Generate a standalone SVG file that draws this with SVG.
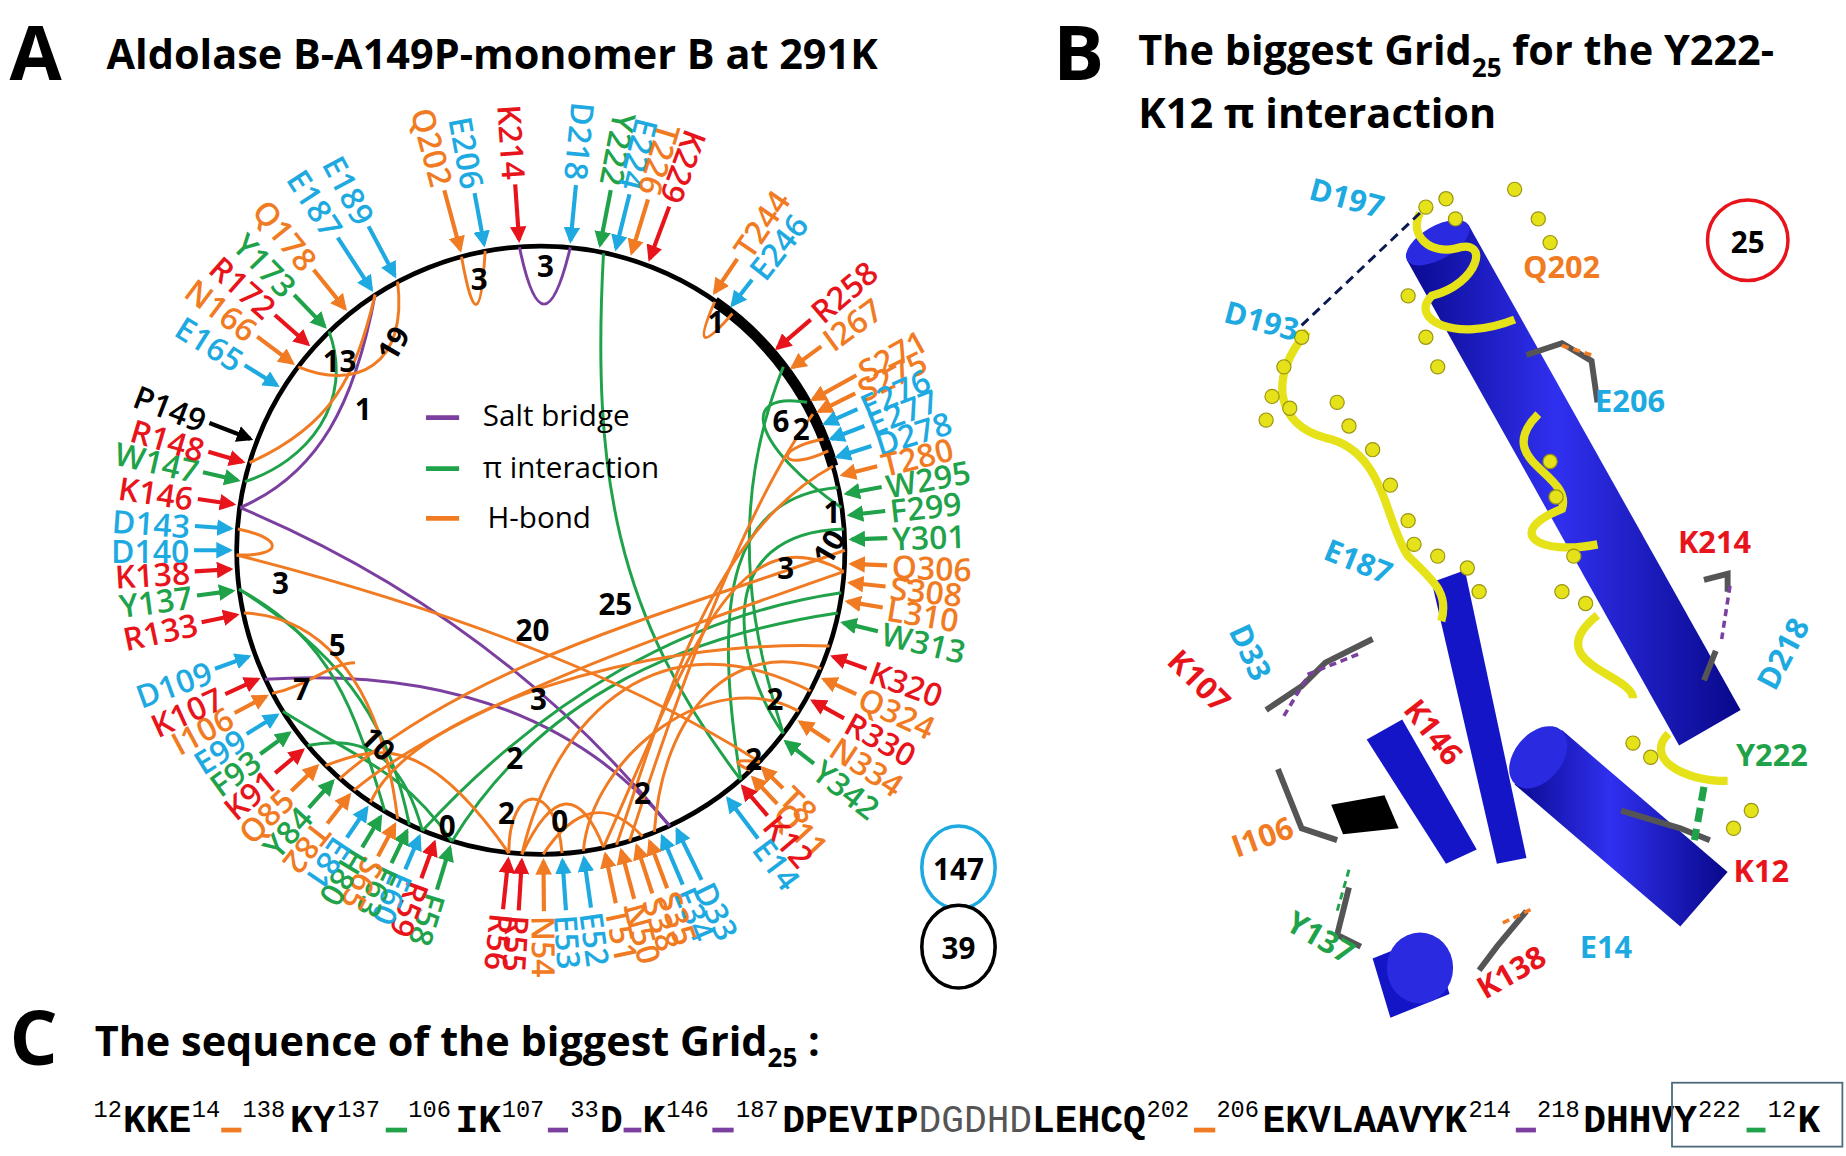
<svg xmlns="http://www.w3.org/2000/svg" width="1846" height="1156" viewBox="0 0 1846 1156">
<style>
text{font-family:"Open Sans","Liberation Sans",sans-serif}
.ttl{font-weight:bold;font-size:35px;fill:#000}
.big{font-weight:bold;font-size:64px;fill:#000}
.lab text{font-size:27px;font-weight:600;dominant-baseline:central}
.o{text-anchor:start}.i{text-anchor:end}
.lab line{stroke-width:3.5}
.r line{stroke:#e8141b;marker-end:url(#mr)}.r text{fill:#e8141b}
.or line{stroke:#f07b23;marker-end:url(#mo)}.or text{fill:#f07b23}
.b line{stroke:#1eaae1;marker-end:url(#mb)}.b text{fill:#1eaae1}
.g line{stroke:#1fa24a;marker-end:url(#mg)}.g text{fill:#1fa24a}
.k line{stroke:#000;marker-end:url(#mk)}.k text{fill:#000}
.c path{fill:none;stroke-width:2.5}
.cp{stroke:#7b3fa0}.cg{stroke:#1fa24a}.co{stroke:#f07b23}
.num{font-weight:bold;font-size:25px;fill:#000;text-anchor:middle;dominant-baseline:central}
.leg{font-size:25px;fill:#000}
.bl{font-size:26px;font-weight:bold}
.seq{font-family:"Liberation Mono",monospace;font-weight:bold;font-size:32px;fill:#000}
.sup{font-family:"Liberation Mono",monospace;font-size:20px;fill:#000}
.ys{fill:#e6e21a;stroke:#9a9410;stroke-width:1}
</style>
<defs>
<marker id="mr" viewBox="0 0 10 10" refX="8" refY="5" markerWidth="4" markerHeight="4" orient="auto"><path d="M0,0L10,5L0,10z" fill="#e8141b"/></marker>
<marker id="mo" viewBox="0 0 10 10" refX="8" refY="5" markerWidth="4" markerHeight="4" orient="auto"><path d="M0,0L10,5L0,10z" fill="#f07b23"/></marker>
<marker id="mb" viewBox="0 0 10 10" refX="8" refY="5" markerWidth="4" markerHeight="4" orient="auto"><path d="M0,0L10,5L0,10z" fill="#1eaae1"/></marker>
<marker id="mg" viewBox="0 0 10 10" refX="8" refY="5" markerWidth="4" markerHeight="4" orient="auto"><path d="M0,0L10,5L0,10z" fill="#1fa24a"/></marker>
<marker id="mk" viewBox="0 0 10 10" refX="8" refY="5" markerWidth="4" markerHeight="4" orient="auto"><path d="M0,0L10,5L0,10z" fill="#000"/></marker>
<linearGradient id="cyl" x1="0" y1="0" x2="1" y2="0"><stop offset="0" stop-color="#0a0a90"/><stop offset="0.45" stop-color="#3030f0"/><stop offset="1" stop-color="#08088a"/></linearGradient>
</defs>
<rect width="1846" height="1156" fill="#fff"/>
<g transform="scale(1.1833)">
<text class="big" x="8" y="68">A</text>
<text class="ttl" x="90" y="58">Aldolase B-A149P-monomer B at 291K</text>
<text class="big" x="890" y="68">B</text>
<text class="ttl" x="962" y="55">The biggest Grid<tspan font-size="22" dy="10">25</tspan><tspan dy="-10"> for the Y222-</tspan></text>
<text class="ttl" x="962" y="108">K12 π interaction</text>
<text class="big" x="8" y="900">C</text>
<text class="ttl" x="80" y="892">The sequence of the biggest Grid<tspan font-size="22" dy="10">25</tspan><tspan dy="-10"> :</tspan></text>

<g id="ring">
<circle cx="457" cy="465" r="257" fill="none" stroke="#000" stroke-width="4"/>
<path d="M604,255 A257,257 0 0 1 704,394" fill="none" stroke="#000" stroke-width="9"/>
</g>

<g id="connectors" class="c">
<path class="cp" d="M439,209 Q459,305 482,209"/>
<path class="cp" d="M203,429 C270,400 300,340 317,249"/>
<path class="cp" d="M203,429 Q420,520 566,698"/>
<path class="cp" d="M224,574 Q450,560 566,698"/>
<path class="cg" d="M510,214 C500,400 520,520 626,659"/>
<path class="cg" d="M207,407 C260,390 300,340 278,280"/>
<path class="cg" d="M202,498 C280,540 300,600 325,685"/>
<path class="cg" d="M202,498 C300,560 330,620 346,697"/>
<path class="cg" d="M260,630 C310,620 340,640 357,702"/>
<path class="cg" d="M239,601 C300,640 340,650 382,711"/>
<path class="cg" d="M382,711 C450,600 560,540 708,518"/>
<path class="cg" d="M357,702 C460,590 580,520 711,501"/>
<path class="cg" d="M662,310 C610,440 640,550 662,620"/>
<path class="cg" d="M708,412 C620,420 600,500 626,659"/>
<path class="cg" d="M711,429 C640,380 620,330 682,340"/>
<path class="cg" d="M713,447 C600,450 620,560 662,620"/>
<path class="co" d="M390,217 Q405,300 410,212"/>
<path class="co" d="M604,255 Q580,310 619,265"/>
<path class="co" d="M252,310 C300,330 345,310 336,238"/>
<path class="co" d="M317,249 C300,320 280,360 211,391"/>
<path class="co" d="M200,469 Q480,540 642,644"/>
<path class="co" d="M201,447 C240,455 240,470 200,469"/>
<path class="co" d="M206,518 C260,520 320,560 336,692"/>
<path class="co" d="M230,586 C260,580 280,560 300,560"/>
<path class="co" d="M299,668 C380,600 550,540 713,483"/>
<path class="co" d="M287,658 C400,560 560,520 714,465"/>
<path class="co" d="M313,678 C350,600 540,540 701,546"/>
<path class="co" d="M275,647 C320,630 360,620 430,721"/>
<path class="co" d="M704,394 C600,450 560,600 521,714"/>
<path class="co" d="M713,483 C620,430 580,560 510,716"/>
<path class="co" d="M694,565 C620,540 560,600 553,703"/>
<path class="co" d="M687,350 C650,400 600,500 532,711"/>
<path class="co" d="M696,371 C650,380 660,400 700,381"/>
<path class="co" d="M685,584 C560,520 470,600 441,722"/>
<path class="co" d="M430,721 C430,660 470,660 475,721"/>
<path class="co" d="M441,722 Q480,640 510,716"/>
<path class="co" d="M459,722 Q500,660 543,707"/>
<path class="co" d="M642,644 Q610,640 634,651"/>
<path class="co" d="M675,601 C600,560 500,640 493,719"/>
</g>

<g id="numbers">
<text class="num" x="405" y="235">3</text><text class="num" x="461" y="224">3</text>
<text class="num" x="287" y="305">13</text><text class="num" x="332" y="290" transform="rotate(-60 332 290)">19</text>
<text class="num" x="307" y="345">1</text><text class="num" x="605" y="272">1</text>
<text class="num" x="660" y="355">6</text><text class="num" x="677" y="362">2</text>
<text class="num" x="703" y="432">1</text><text class="num" x="700" y="462" transform="rotate(-60 700 462)">10</text>
<text class="num" x="664" y="480">3</text><text class="num" x="655" y="590">2</text>
<text class="num" x="637" y="641">2</text>
<text class="num" x="520" y="510">25</text><text class="num" x="450" y="532">20</text>
<text class="num" x="455" y="590">3</text><text class="num" x="435" y="640">2</text>
<text class="num" x="543" y="670">2</text><text class="num" x="237" y="492">3</text>
<text class="num" x="285" y="545">5</text><text class="num" x="255" y="582">7</text>
<text class="num" x="320" y="628" transform="rotate(45 320 628)">10</text>
<text class="num" x="378" y="698">0</text><text class="num" x="428" y="687">2</text><text class="num" x="473" y="693">0</text>
</g>

<g id="legend">
<line x1="360" y1="353" x2="388" y2="353" stroke="#7b3fa0" stroke-width="4"/>
<line x1="360" y1="396" x2="388" y2="396" stroke="#1fa24a" stroke-width="4"/>
<line x1="360" y1="438" x2="388" y2="438" stroke="#f07b23" stroke-width="4"/>
<text class="leg" x="408" y="360">Salt bridge</text>
<text class="leg" x="408" y="404">π interaction</text>
<text class="leg" x="412" y="446">H-bond</text>
</g>

<g id="labels" class="lab">
<g class="or" transform="rotate(-15 457 465)"><line x1="457" y1="150" x2="457" y2="202"/><text class="i" transform="translate(457,146) rotate(90)">Q202</text></g>
<g class="b" transform="rotate(-10.5 457 465)"><line x1="457" y1="158" x2="457" y2="202"/><text class="i" transform="translate(457,154) rotate(90)">E206</text></g>
<g class="r" transform="rotate(-4 457 465)"><line x1="457" y1="155" x2="457" y2="202"/><text class="i" transform="translate(457,151) rotate(90)">K214</text></g>
<g class="b" transform="rotate(5.5 457 465)"><line x1="457" y1="155" x2="457" y2="202"/><text class="i" transform="translate(457,151) rotate(90)">D218</text></g>
<g class="g" transform="rotate(11 457 465)"><line x1="457" y1="155" x2="457" y2="202"/><text class="i" transform="translate(457,151) rotate(90)">Y222</text></g>
<g class="b" transform="rotate(14 457 465)"><line x1="457" y1="155" x2="457" y2="202"/><text class="i" transform="translate(457,151) rotate(90)">E224</text></g>
<g class="or" transform="rotate(17 457 465)"><line x1="457" y1="155" x2="457" y2="202"/><text class="i" transform="translate(457,151) rotate(90)">T226</text></g>
<g class="r" transform="rotate(20.5 457 465)"><line x1="457" y1="155" x2="457" y2="202"/><text class="i" transform="translate(457,151) rotate(90)">K229</text></g>
<g class="or" transform="rotate(34 457 465)"><line x1="457" y1="168" x2="457" y2="202"/><text class="o" transform="translate(457,163) rotate(-90)">T244</text></g>
<g class="b" transform="rotate(38 457 465)"><line x1="457" y1="175" x2="457" y2="202"/><text class="o" transform="translate(457,170) rotate(-90)">E246</text></g>
<g class="r" transform="rotate(49.5 457 465)"><line x1="457" y1="165" x2="457" y2="202"/><text class="o" transform="translate(457,160) rotate(-90)">R258</text></g>
<g class="or" transform="rotate(54 457 465)"><line x1="457" y1="172" x2="457" y2="202"/><text class="o" transform="translate(457,167) rotate(-90)">I267</text></g>
<g class="or" transform="rotate(61 457 465)"><line x1="457" y1="160" x2="457" y2="202"/><text class="o" transform="translate(457,156) rotate(-90)">S271</text></g>
<g class="or" transform="rotate(63.5 457 465)"><line x1="457" y1="168" x2="457" y2="202"/><text class="o" transform="translate(457,164) rotate(-90)">S275</text></g>
<g class="b" transform="rotate(66 457 465)"><line x1="457" y1="172" x2="457" y2="202"/><text class="o" transform="translate(457,168) rotate(-90)">E276</text></g>
<g class="b" transform="rotate(69 457 465)"><line x1="457" y1="172" x2="457" y2="202"/><text class="o" transform="translate(457,168) rotate(-90)">E277</text></g>
<g class="b" transform="rotate(72.5 457 465)"><line x1="457" y1="172" x2="457" y2="202"/><text class="o" transform="translate(457,168) rotate(-90)">D278</text></g>
<g class="or" transform="rotate(76 457 465)"><line x1="457" y1="172" x2="457" y2="202"/><text class="o" transform="translate(457,168) rotate(-90)">T280</text></g>
<g class="g" transform="rotate(79.5 457 465)"><line x1="457" y1="172" x2="457" y2="202"/><text class="o" transform="translate(457,168) rotate(-90)">W295</text></g>
<g class="g" transform="rotate(83.5 457 465)"><line x1="457" y1="172" x2="457" y2="202"/><text class="o" transform="translate(457,168) rotate(-90)">F299</text></g>
<g class="g" transform="rotate(88 457 465)"><line x1="457" y1="172" x2="457" y2="202"/><text class="o" transform="translate(457,168) rotate(-90)">Y301</text></g>
<g class="or" transform="rotate(92.5 457 465)"><line x1="457" y1="172" x2="457" y2="202"/><text class="o" transform="translate(457,168) rotate(-90)">Q306</text></g>
<g class="or" transform="rotate(96 457 465)"><line x1="457" y1="172" x2="457" y2="202"/><text class="o" transform="translate(457,168) rotate(-90)">S308</text></g>
<g class="or" transform="rotate(99.5 457 465)"><line x1="457" y1="172" x2="457" y2="202"/><text class="o" transform="translate(457,168) rotate(-90)">L310</text></g>
<g class="g" transform="rotate(103.5 457 465)"><line x1="457" y1="172" x2="457" y2="202"/><text class="o" transform="translate(457,168) rotate(-90)">W313</text></g>
<g class="r" transform="rotate(110 457 465)"><line x1="457" y1="172" x2="457" y2="202"/><text class="o" transform="translate(457,168) rotate(-90)">K320</text></g>
<g class="or" transform="rotate(114.5 457 465)"><line x1="457" y1="172" x2="457" y2="202"/><text class="o" transform="translate(457,168) rotate(-90)">Q324</text></g>
<g class="r" transform="rotate(119 457 465)"><line x1="457" y1="172" x2="457" y2="202"/><text class="o" transform="translate(457,168) rotate(-90)">R330</text></g>
<g class="or" transform="rotate(123.5 457 465)"><line x1="457" y1="172" x2="457" y2="202"/><text class="o" transform="translate(457,168) rotate(-90)">N334</text></g>
<g class="g" transform="rotate(128 457 465)"><line x1="457" y1="172" x2="457" y2="202"/><text class="o" transform="translate(457,168) rotate(-90)">Y342</text></g>
<g class="or" transform="rotate(134.5 457 465)"><line x1="457" y1="178" x2="457" y2="202"/><text class="o" transform="translate(457,174) rotate(-90)">T8</text></g>
<g class="or" transform="rotate(137 457 465)"><line x1="457" y1="172" x2="457" y2="202"/><text class="o" transform="translate(457,168) rotate(-90)">Q11</text></g>
<g class="r" transform="rotate(139.5 457 465)"><line x1="457" y1="170" x2="457" y2="202"/><text class="o" transform="translate(457,166) rotate(-90)">K12</text></g>
<g class="b" transform="rotate(143 457 465)"><line x1="457" y1="160" x2="457" y2="202"/><text class="o" transform="translate(457,156) rotate(-90)">E14</text></g>
<g class="b" transform="rotate(154 457 465)"><line x1="457" y1="155" x2="457" y2="202"/><text class="o" transform="translate(457,151) rotate(-90)">D33</text></g>
<g class="b" transform="rotate(157 457 465)"><line x1="457" y1="158" x2="457" y2="202"/><text class="o" transform="translate(457,154) rotate(-90)">E34</text></g>
<g class="or" transform="rotate(159.5 457 465)"><line x1="457" y1="160" x2="457" y2="202"/><text class="o" transform="translate(457,156) rotate(-90)">S35</text></g>
<g class="or" transform="rotate(162 457 465)"><line x1="457" y1="160" x2="457" y2="202"/><text class="o" transform="translate(457,156) rotate(-90)">S38</text></g>
<g class="or" transform="rotate(165 457 465)"><line x1="457" y1="160" x2="457" y2="202"/><text class="o" transform="translate(457,156) rotate(-90)">N50</text></g>
<g class="or" transform="rotate(168 457 465)"><line x1="457" y1="160" x2="457" y2="202"/><text class="o" transform="translate(457,156) rotate(-90)">T51</text></g>
<g class="b" transform="rotate(172 457 465)"><line x1="457" y1="160" x2="457" y2="202"/><text class="o" transform="translate(457,156) rotate(-90)">E52</text></g>
<g class="b" transform="rotate(176 457 465)"><line x1="457" y1="160" x2="457" y2="202"/><text class="o" transform="translate(457,156) rotate(-90)">E53</text></g>
<g class="or" transform="rotate(179.5 457 465)"><line x1="457" y1="160" x2="457" y2="202"/><text class="o" transform="translate(457,156) rotate(-90)">N54</text></g>
<g class="r" transform="rotate(183.5 457 465)"><line x1="457" y1="160" x2="457" y2="202"/><text class="o" transform="translate(457,156) rotate(-90)">R55</text></g>
<g class="r" transform="rotate(186 457 465)"><line x1="457" y1="160" x2="457" y2="202"/><text class="o" transform="translate(457,156) rotate(-90)">R56</text></g>
<g class="g" transform="rotate(197 457 465)"><line x1="457" y1="165" x2="457" y2="202"/><text class="o" transform="translate(457,161) rotate(-90)">F58</text></g>
<g class="r" transform="rotate(200 457 465)"><line x1="457" y1="170" x2="457" y2="202"/><text class="o" transform="translate(457,166) rotate(-90)">R59</text></g>
<g class="b" transform="rotate(203 457 465)"><line x1="457" y1="172" x2="457" y2="202"/><text class="o" transform="translate(457,168) rotate(-90)">E60</text></g>
<g class="g" transform="rotate(205.5 457 465)"><line x1="457" y1="172" x2="457" y2="202"/><text class="o" transform="translate(457,168) rotate(-90)">F63</text></g>
<g class="or" transform="rotate(208 457 465)"><line x1="457" y1="172" x2="457" y2="202"/><text class="o" transform="translate(457,168) rotate(-90)">S65</text></g>
<g class="g" transform="rotate(211 457 465)"><line x1="457" y1="172" x2="457" y2="202"/><text class="o" transform="translate(457,168) rotate(-90)">H80</text></g>
<g class="b" transform="rotate(214 457 465)"><line x1="457" y1="172" x2="457" y2="202"/><text class="o" transform="translate(457,168) rotate(-90)">E81</text></g>
<g class="or" transform="rotate(218 457 465)"><line x1="457" y1="172" x2="457" y2="202"/><text class="o" transform="translate(457,168) rotate(-90)">T82</text></g>
<g class="g" transform="rotate(222 457 465)"><line x1="457" y1="172" x2="457" y2="202"/><text class="i" transform="translate(457,168) rotate(90)">Y84</text></g>
<g class="or" transform="rotate(226 457 465)"><line x1="457" y1="172" x2="457" y2="202"/><text class="i" transform="translate(457,168) rotate(90)">Q85</text></g>
<g class="r" transform="rotate(230 457 465)"><line x1="457" y1="172" x2="457" y2="202"/><text class="i" transform="translate(457,168) rotate(90)">K91</text></g>
<g class="g" transform="rotate(234 457 465)"><line x1="457" y1="172" x2="457" y2="202"/><text class="i" transform="translate(457,168) rotate(90)">F93</text></g>
<g class="b" transform="rotate(238 457 465)"><line x1="457" y1="172" x2="457" y2="202"/><text class="i" transform="translate(457,168) rotate(90)">E99</text></g>
<g class="or" transform="rotate(242 457 465)"><line x1="457" y1="172" x2="457" y2="202"/><text class="i" transform="translate(457,168) rotate(90)">I106</text></g>
<g class="r" transform="rotate(245.5 457 465)"><line x1="457" y1="172" x2="457" y2="202"/><text class="i" transform="translate(457,168) rotate(90)">K107</text></g>
<g class="b" transform="rotate(250 457 465)"><line x1="457" y1="172" x2="457" y2="202"/><text class="i" transform="translate(457,168) rotate(90)">D109</text></g>
<g class="r" transform="rotate(258 457 465)"><line x1="457" y1="172" x2="457" y2="202"/><text class="i" transform="translate(457,168) rotate(90)">R133</text></g>
<g class="g" transform="rotate(262.5 457 465)"><line x1="457" y1="172" x2="457" y2="202"/><text class="i" transform="translate(457,168) rotate(90)">Y137</text></g>
<g class="r" transform="rotate(266.5 457 465)"><line x1="457" y1="172" x2="457" y2="202"/><text class="i" transform="translate(457,168) rotate(90)">K138</text></g>
<g class="b" transform="rotate(270 457 465)"><line x1="457" y1="172" x2="457" y2="202"/><text class="i" transform="translate(457,168) rotate(90)">D140</text></g>
<g class="b" transform="rotate(274 457 465)"><line x1="457" y1="172" x2="457" y2="202"/><text class="i" transform="translate(457,168) rotate(90)">D143</text></g>
<g class="r" transform="rotate(278.5 457 465)"><line x1="457" y1="172" x2="457" y2="202"/><text class="i" transform="translate(457,168) rotate(90)">K146</text></g>
<g class="g" transform="rotate(283 457 465)"><line x1="457" y1="172" x2="457" y2="202"/><text class="i" transform="translate(457,168) rotate(90)">W147</text></g>
<g class="r" transform="rotate(286.5 457 465)"><line x1="457" y1="172" x2="457" y2="202"/><text class="i" transform="translate(457,168) rotate(90)">R148</text></g>
<g class="k" transform="rotate(291 457 465)"><line x1="457" y1="165" x2="457" y2="202"/><text class="i" transform="translate(457,161) rotate(90)">P149</text></g>
<g class="b" transform="rotate(302 457 465)"><line x1="457" y1="170" x2="457" y2="202"/><text class="i" transform="translate(457,166) rotate(90)">E165</text></g>
<g class="or" transform="rotate(307 457 465)"><line x1="457" y1="165" x2="457" y2="202"/><text class="i" transform="translate(457,161) rotate(90)">N166</text></g>
<g class="r" transform="rotate(311.5 457 465)"><line x1="457" y1="165" x2="457" y2="202"/><text class="i" transform="translate(457,161) rotate(90)">R172</text></g>
<g class="g" transform="rotate(316 457 465)"><line x1="457" y1="165" x2="457" y2="202"/><text class="i" transform="translate(457,161) rotate(90)">Y173</text></g>
<g class="or" transform="rotate(321 457 465)"><line x1="457" y1="160" x2="457" y2="202"/><text class="i" transform="translate(457,156) rotate(90)">Q178</text></g>
<g class="b" transform="rotate(327 457 465)"><line x1="457" y1="150" x2="457" y2="202"/><text class="i" transform="translate(457,146) rotate(90)">E187</text></g>
<g class="b" transform="rotate(332 457 465)"><line x1="457" y1="155" x2="457" y2="202"/><text class="i" transform="translate(457,151) rotate(90)">E189</text></g>
</g>

<g id="count147"><ellipse cx="810" cy="733" rx="31" ry="35" fill="#fff" stroke="#1eaae1" stroke-width="3"/><text class="num" x="810" y="734">147</text></g>
<g id="count39"><ellipse cx="810" cy="800" rx="31" ry="35" fill="#fff" stroke="#000" stroke-width="3"/><text class="num" x="810" y="801">39</text></g>

<g id="structure">
<polygon points="1241,190 1189,220 1419,630 1471,600" fill="url(#cyl)"/>
<ellipse cx="1215" cy="205" rx="30" ry="14" transform="rotate(-30 1215 205)" fill="#2a2ae0"/>
<polygon points="1320,617 1280,663 1420,783 1460,737" fill="url(#cyl)"/>
<ellipse cx="1300" cy="640" rx="30" ry="20" transform="rotate(-50 1300 640)" fill="#2a2ae0"/>
<polygon points="1210,492 1238,482 1290,725 1265,730" fill="#1515c8"/>
<polygon points="1155,625 1185,608 1248,718 1222,730" fill="#1515c8"/>
<polygon points="1160,810 1210,790 1225,840 1175,860" fill="#1515c8"/>
<ellipse cx="1200" cy="818" rx="28" ry="30" fill="#2a2ae0"/>
<polygon points="1125,680 1170,672 1182,700 1135,705" fill="#000"/>
<path d="M1200,180 C1190,200 1210,215 1230,210 C1260,200 1250,240 1210,250 C1190,270 1230,290 1280,270 M1300,350 C1260,390 1330,400 1320,430 C1270,450 1300,470 1350,460 M1350,520 C1300,560 1380,570 1380,590 M1410,620 C1390,640 1420,660 1460,660" fill="none" stroke="#e6e21a" stroke-width="7"/>
<path d="M1105,280 C1070,320 1080,360 1120,370 C1170,380 1170,440 1190,470 C1210,490 1225,500 1218,525" fill="none" stroke="#e6e21a" stroke-width="7"/>
<g class="ys">
<circle cx="1205" cy="175" r="6"/><circle cx="1222" cy="168" r="6"/><circle cx="1230" cy="185" r="6"/>
<circle cx="1280" cy="160" r="6"/><circle cx="1300" cy="185" r="6"/><circle cx="1310" cy="205" r="6"/>
<circle cx="1190" cy="250" r="6"/><circle cx="1205" cy="285" r="6"/><circle cx="1215" cy="310" r="6"/>
<circle cx="1100" cy="285" r="6"/><circle cx="1085" cy="310" r="6"/><circle cx="1075" cy="335" r="6"/>
<circle cx="1070" cy="355" r="6"/><circle cx="1090" cy="345" r="6"/><circle cx="1130" cy="340" r="6"/>
<circle cx="1140" cy="360" r="6"/><circle cx="1160" cy="380" r="6"/><circle cx="1175" cy="410" r="6"/>
<circle cx="1190" cy="440" r="6"/><circle cx="1195" cy="460" r="6"/><circle cx="1215" cy="470" r="6"/>
<circle cx="1240" cy="480" r="6"/><circle cx="1250" cy="500" r="6"/><circle cx="1310" cy="390" r="6"/>
<circle cx="1315" cy="420" r="6"/><circle cx="1330" cy="470" r="6"/><circle cx="1320" cy="500" r="6"/>
<circle cx="1340" cy="510" r="6"/><circle cx="1380" cy="628" r="6"/><circle cx="1395" cy="640" r="6"/>
<circle cx="1480" cy="685" r="6"/><circle cx="1465" cy="700" r="6"/>
</g>
<path d="M1290,300 L1320,290 L1345,305 L1350,340 M1440,490 L1460,485 L1460,500 M1450,550 L1440,575 M1370,685 L1420,700 L1445,710 M1140,750 L1130,790 L1150,800 M1290,770 L1265,800 L1250,820 M1080,650 L1100,700 L1130,710 M1160,540 L1120,560 L1100,580 L1070,600" fill="none" stroke="#555" stroke-width="5"/>
<line x1="1200" y1="180" x2="1100" y2="275" stroke="#0a1a50" stroke-width="2.5" stroke-dasharray="8,5"/>
<line x1="1320" y1="292" x2="1345" y2="300" stroke="#f07b23" stroke-width="3" stroke-dasharray="6,4"/>
<line x1="1462" y1="495" x2="1455" y2="540" stroke="#7b3fa0" stroke-width="3" stroke-dasharray="6,4"/>
<line x1="1105" y1="570" x2="1150" y2="552" stroke="#7b3fa0" stroke-width="3" stroke-dasharray="6,4"/>
<line x1="1085" y1="605" x2="1105" y2="572" stroke="#7b3fa0" stroke-width="3" stroke-dasharray="6,4"/>
<line x1="1440" y1="665" x2="1432" y2="710" stroke="#1fa24a" stroke-width="6" stroke-dasharray="12,6"/>
<line x1="1140" y1="735" x2="1130" y2="770" stroke="#1fa24a" stroke-width="2.5" stroke-dasharray="6,4"/>
<line x1="1270" y1="780" x2="1295" y2="768" stroke="#f07b23" stroke-width="3" stroke-dasharray="6,4"/>
</g>
<g id="structure-labels" class="bl">
<text x="1105" y="168" fill="#1eaae1" transform="rotate(15 1105 168)">D197</text>
<text x="1033" y="272" fill="#1eaae1" transform="rotate(15 1033 272)">D193</text>
<text x="1287" y="235" fill="#f07b23">Q202</text>
<text x="1348" y="348" fill="#1eaae1">E206</text>
<text x="1418" y="467" fill="#e8141b">K214</text>
<text x="1500" y="585" fill="#1eaae1" transform="rotate(-62 1500 585)">D218</text>
<text x="1467" y="647" fill="#1fa24a">Y222</text>
<text x="1465" y="745" fill="#e8141b">K12</text>
<text x="1335" y="810" fill="#1eaae1">E14</text>
<text x="1255" y="845" fill="#e8141b" transform="rotate(-30 1255 845)">K138</text>
<text x="1085" y="785" fill="#1fa24a" transform="rotate(30 1085 785)">Y137</text>
<text x="1045" y="725" fill="#f07b23" transform="rotate(-20 1045 725)">I106</text>
<text x="985" y="560" fill="#e8141b" transform="rotate(45 985 560)">K107</text>
<text x="1038" y="533" fill="#1eaae1" transform="rotate(65 1038 533)">D33</text>
<text x="1117" y="472" fill="#1eaae1" transform="rotate(22 1117 472)">E187</text>
<text x="1185" y="600" fill="#e8141b" transform="rotate(52 1185 600)">K146</text>
</g>
<g id="grid25"><circle cx="1477" cy="203" r="34" fill="#fff" stroke="#e8141b" stroke-width="3"/><text class="num" x="1477" y="204">25</text></g>

<g id="sequence">
<text class="sup" x="79" y="944">12</text><text class="seq" x="104" y="957">KKE</text><text class="sup" x="162" y="944">14</text>
<line x1="187" y1="955" x2="204" y2="955" stroke="#f07b23" stroke-width="4"/>
<text class="sup" x="205" y="944">138</text><text class="seq" x="245" y="957">KY</text><text class="sup" x="285" y="944">137</text>
<line x1="326" y1="955" x2="344" y2="955" stroke="#1fa24a" stroke-width="4"/>
<text class="sup" x="345" y="944">106</text><text class="seq" x="385" y="957">IK</text><text class="sup" x="424" y="944">107</text>
<line x1="463" y1="955" x2="480" y2="955" stroke="#7b3fa0" stroke-width="4"/>
<text class="sup" x="482" y="944">33</text><text class="seq" x="507" y="957">D</text>
<line x1="527" y1="955" x2="542" y2="955" stroke="#7b3fa0" stroke-width="4"/>
<text class="seq" x="543" y="957">K</text><text class="sup" x="563" y="944">146</text>
<line x1="602" y1="955" x2="620" y2="955" stroke="#7b3fa0" stroke-width="4"/>
<text class="sup" x="622" y="944">187</text><text class="seq" x="661" y="957">DPEVIP<tspan font-weight="normal" fill="#555">DGDHD</tspan>LEHCQ</text><text class="sup" x="969" y="944">202</text>
<line x1="1009" y1="955" x2="1027" y2="955" stroke="#f07b23" stroke-width="4"/>
<text class="sup" x="1028" y="944">206</text><text class="seq" x="1067" y="957">EKVLAAVYK</text><text class="sup" x="1241" y="944">214</text>
<line x1="1281" y1="955" x2="1298" y2="955" stroke="#7b3fa0" stroke-width="4"/>
<text class="sup" x="1299" y="944">218</text><text class="seq" x="1338" y="957">DHHVY</text><text class="sup" x="1435" y="944">222</text>
<line x1="1476" y1="955" x2="1492" y2="955" stroke="#1fa24a" stroke-width="4"/>
<text class="sup" x="1494" y="944">12</text><text class="seq" x="1519" y="957">K</text>
<rect x="1413" y="915" width="144" height="54" fill="none" stroke="#4a6a7a" stroke-width="1.5"/>
</g>
</g>
</svg>
